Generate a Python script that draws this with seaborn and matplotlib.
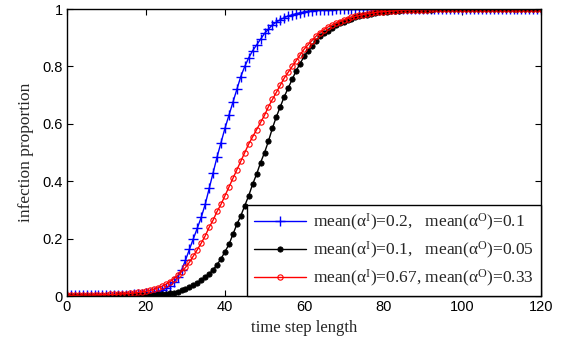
import numpy as np
import pandas as pd
import matplotlib
matplotlib.use("Agg")
import matplotlib.pyplot as plt
import seaborn as sns

time_steps = np.arange(0, 121)

blue_vals = [
    0.003, 0.003, 0.003, 0.003, 0.003, 0.003, 0.003, 0.003, 0.003, 0.003,
    0.004, 0.004, 0.004, 0.004, 0.004, 0.005, 0.005, 0.006, 0.007, 0.008,
    0.010, 0.012, 0.014, 0.017, 0.020, 0.027, 0.036, 0.048, 0.065, 0.090,
    0.125, 0.163, 0.200, 0.237, 0.275, 0.320, 0.375, 0.430, 0.485, 0.535,
    0.585, 0.630, 0.675, 0.720, 0.765, 0.800, 0.830, 0.855, 0.875, 0.895,
    0.915, 0.930, 0.945, 0.955, 0.963, 0.970, 0.976, 0.980, 0.984, 0.987,
    0.990, 0.992, 0.994, 0.995, 0.996, 0.997, 0.998, 0.998, 0.999, 0.999,
    0.999, 0.999, 0.999, 1.0, 1.0, 1.0, 1.0, 1.0, 1.0, 1.0,
    1.0, 1.0, 1.0, 1.0, 1.0, 1.0, 1.0, 1.0, 1.0, 1.0,
    1.0, 1.0, 1.0, 1.0, 1.0, 1.0, 1.0, 1.0, 1.0, 1.0,
    1.0, 1.0, 1.0, 1.0, 1.0, 1.0, 1.0, 1.0, 1.0, 1.0,
    1.0, 1.0, 1.0, 1.0, 1.0, 1.0, 1.0, 1.0, 1.0, 1.0,
    1.0,
]

black_vals = [
    0.002, 0.002, 0.002, 0.002, 0.002, 0.002, 0.002, 0.002, 0.002, 0.002,
    0.002, 0.002, 0.002, 0.003, 0.003, 0.003, 0.003, 0.003, 0.004, 0.004,
    0.004, 0.005, 0.005, 0.006, 0.007, 0.008, 0.010, 0.012, 0.016, 0.020,
    0.025, 0.031, 0.038, 0.046, 0.056, 0.066, 0.078, 0.092, 0.110, 0.130,
    0.155, 0.180, 0.215, 0.250, 0.280, 0.315, 0.350, 0.390, 0.425, 0.465,
    0.500, 0.540, 0.585, 0.625, 0.660, 0.695, 0.725, 0.755, 0.785, 0.810,
    0.835, 0.855, 0.873, 0.890, 0.905, 0.915, 0.925, 0.935, 0.943, 0.950,
    0.956, 0.962, 0.967, 0.971, 0.975, 0.978, 0.981, 0.984, 0.986, 0.988,
    0.990, 0.991, 0.992, 0.993, 0.994, 0.995, 0.996, 0.996, 0.997, 0.997,
    0.998, 0.998, 0.998, 0.999, 0.999, 0.999, 0.999, 1.0, 1.0, 1.0,
    1.0, 1.0, 1.0, 1.0, 1.0, 1.0, 1.0, 1.0, 1.0, 1.0,
    1.0, 1.0, 1.0, 1.0, 1.0, 1.0, 1.0, 1.0, 1.0, 1.0,
    1.0,
]

red_vals = [
    0.003, 0.003, 0.003, 0.003, 0.004, 0.004, 0.004, 0.004, 0.005, 0.005,
    0.005, 0.006, 0.006, 0.007, 0.008, 0.009, 0.010, 0.011, 0.013, 0.015,
    0.017, 0.020, 0.024, 0.029, 0.034, 0.041, 0.050, 0.060, 0.072, 0.085,
    0.100, 0.118, 0.140, 0.162, 0.185, 0.210, 0.240, 0.265, 0.295, 0.320,
    0.350, 0.380, 0.410, 0.440, 0.470, 0.500, 0.530, 0.555, 0.580, 0.605,
    0.630, 0.660, 0.685, 0.710, 0.735, 0.760, 0.780, 0.800, 0.820, 0.840,
    0.860, 0.875, 0.890, 0.905, 0.918, 0.928, 0.937, 0.944, 0.950, 0.956,
    0.962, 0.967, 0.971, 0.975, 0.978, 0.981, 0.984, 0.986, 0.988, 0.990,
    0.991, 0.992, 0.993, 0.994, 0.995, 0.996, 0.996, 0.997, 0.997, 0.998,
    0.998, 0.998, 0.999, 0.999, 0.999, 0.999, 1.0, 1.0, 1.0, 1.0,
    1.0, 1.0, 1.0, 1.0, 1.0, 1.0, 1.0, 1.0, 1.0, 1.0,
    1.0, 1.0, 1.0, 1.0, 1.0, 1.0, 1.0, 1.0, 1.0, 1.0,
    1.0,
]

labels = [
    "mean(α$^{\\rm I}$)=0.2,   mean(α$^{\\rm O}$)=0.1",
    "mean(α$^{\\rm I}$)=0.1,   mean(α$^{\\rm O}$)=0.05",
    "mean(α$^{\\rm I}$)=0.67, mean(α$^{\\rm O}$)=0.33",
]

sns.set_style("ticks")
plt.rcParams["font.family"] = ["Liberation Serif", "DejaVu Serif"]
plt.rcParams["mathtext.fontset"] = "custom"
plt.rcParams["mathtext.rm"] = "Liberation Serif"
plt.rcParams["mathtext.it"] = "Liberation Serif:italic"

fig = plt.figure(figsize=(5.62, 3.48), dpi=100)
ax = fig.add_axes([0.119, 0.149, 0.844, 0.825])

styles = [
    dict(color="#0000ff", marker="+", markersize=7.5, markeredgewidth=1.0,
         markeredgecolor="#0000ff", markerfacecolor="#0000ff"),
    dict(color="#000000", marker="o", markersize=3.8, markeredgewidth=0.6,
         markeredgecolor="#000000", markerfacecolor="#000000"),
    dict(color="#ff0000", marker="o", markersize=3.8, markeredgewidth=0.8,
         markeredgecolor="#ff0000", markerfacecolor="none"),
]

for vals, lab, st in zip([blue_vals, black_vals, red_vals], labels, styles):
    df = pd.DataFrame({"t": time_steps, "v": vals})
    sns.lineplot(data=df, x="t", y="v", ax=ax, label=lab, linewidth=1.0, **st)

ax.set_xlim(0, 120)
ax.set_ylim(0, 1)
ax.set_xticks([0, 20, 40, 60, 80, 100, 120])
ax.set_xticklabels(["0", "20", "40", "60", "80", "100", "120"],
                   fontfamily="Liberation Sans", fontsize=10.5)
ax.set_yticks([0, 0.2, 0.4, 0.6, 0.8, 1])
ax.set_yticklabels(["0", "0.2", "0.4", "0.6", "0.8", "1"],
                   fontfamily="Liberation Sans", fontsize=10.5)
ax.tick_params(direction="in", length=4, width=0.8, top=True, right=True,
               colors="black", pad=3)
for sp in ax.spines.values():
    sp.set_visible(True)
    sp.set_linewidth(1.0)
    sp.set_color("black")

ax.set_xlabel("time step length", fontsize=12, labelpad=4)
ax.set_ylabel("infection proportion", fontsize=12.5, labelpad=6)

leg = ax.legend(loc="lower right", borderaxespad=0, fancybox=False,
                framealpha=1, edgecolor="black", fontsize=12.5,
                handlelength=3.0, numpoints=1, borderpad=0.4,
                labelspacing=0.4, handletextpad=0.4)
leg.get_frame().set_linewidth(1.0)

fig.savefig("out.png", dpi=100)
